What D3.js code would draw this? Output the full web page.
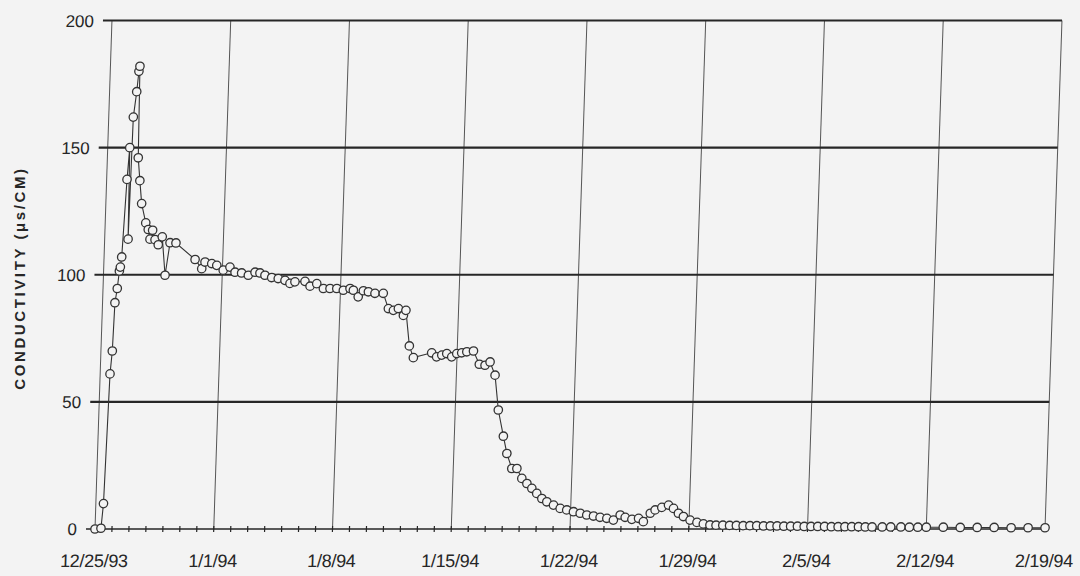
<!DOCTYPE html>
<html><head><meta charset="utf-8">
<script src="https://cdn.jsdelivr.net/npm/d3@7/dist/d3.min.js"></script>
<style>body{margin:0;background:#f3f3f3}svg{display:block}</style>
</head><body>
<svg id="chart" width="1080" height="576"></svg>
<script>
// ---- data ----
const startDate = new Date(Date.UTC(1993, 11, 25));
const dayOffsets = [0.0,0.35,0.45,0.58,0.67,0.73,0.84,0.93,0.98,1.04,1.2,1.3,1.38,1.45,1.6,1.69,1.74,1.82,1.96,2.11,
  2.39,2.55,2.67,2.81,2.97,3.17,3.39,3.63,3.86,4.21,5.37,5.78,5.96,6.36,6.66,7.05,7.44,7.75,8.14,8.54,
  8.93,9.22,9.52,9.92,10.31,10.71,11.01,11.3,11.89,12.2,12.59,12.99,13.38,13.78,14.17,14.56,14.76,15.06,15.35,15.65,
  16.04,16.53,16.86,17.16,17.45,17.76,17.9,18.17,18.43,19.5,19.8,20.1,20.39,20.69,20.98,21.27,21.57,21.96,22.33,22.67,
  22.96,23.28,23.54,23.89,24.13,24.45,24.75,25.06,25.37,25.67,25.97,26.28,26.58,26.98,27.38,27.77,28.17,28.57,28.96,29.36,
  29.75,30.15,30.54,30.93,31.23,31.63,32.02,32.31,32.7,32.98,33.37,33.76,34.06,34.36,34.66,35.06,35.47,35.85,36.24,
  36.6,37.0,37.4,37.8,38.2,38.6,39.0,39.4,39.8,40.2,40.6,41.0,41.4,41.8,42.2,42.6,43.0,43.4,43.8,44.2,44.6,45.0,45.4,45.8,
  46.4,46.9,47.5,48.0,48.5,49.0,50,51,52,53,54,55,56];
const conductivity = [0,0.3,10,61,70,89,94.6,101.5,103,107,137.5,150,114,162,172,180,182,146,137,128,
  120.4,117.8,114,117.5,113.8,111.8,114.9,99.8,112.6,112.5,106,102.4,105,104.4,103.7,101.8,103,101,100.7,99.8,
  101,100.7,99.8,98.9,98.5,97.8,96.6,97.2,97.4,95.5,96.5,94.6,94.6,94.6,93.9,94.6,93.9,91.3,93.7,93.3,
  92.7,92.7,86.7,86,86.7,84,86,72,67.4,69.3,67.7,68.4,69,67.7,69,69.3,69.7,70,64.8,64.4,
  65.7,60.5,46.8,36.5,29.7,23.8,23.8,19.9,17.9,16,14,12,10.7,9.4,8.1,7.5,6.8,6.2,5.5,5.1,
  4.6,4.2,3.5,5.5,4.6,3.8,4.2,2.9,6.2,7.5,8.5,9.4,8.1,6.2,4.9,3.5,2.6,2.0,1.6,
  1.5,1.5,1.4,1.4,1.3,1.3,1.3,1.2,1.2,1.2,1.1,1.1,1.1,1.0,1.0,1.0,1.0,0.9,0.9,0.9,0.9,0.9,0.8,0.8,
  0.8,0.8,0.8,0.7,0.7,0.7,0.7,0.6,0.6,0.6,0.5,0.5,0.5];
const xTickDays = [0,7,14,21,28,35,42,49,56];
const xTickLabels = ["12/25/93","1/1/94","1/8/94","1/15/94","1/22/94","1/29/94","2/5/94","2/12/94","2/19/94"];
const minorTickDays = [0,1,2,3,4,5,6,7,8,9,10,11,12,13,14,15,16,17,18,19,20,21,22,23,24,25,26,27,28,
  29,30,31,32,33,34,35,36,37,38,39,40,41,42,43,44,45,46,47,48,49,50,51,52,53,54,55,56];
const yTickValues = [0,50,100,150,200];
const yTickLabels = ["0","50","100","150","200"];
const yTitle = "CONDUCTIVITY (\u03bcs/CM)";

// ---- layout ----
const DAY = 864e5;
const toDate = d => new Date(startDate.getTime() + d * DAY);
const endDate = toDate(56);
const x = d3.scaleUtc().domain([startDate, endDate]).range([95, 1045]);
const y = d3.scaleLinear().domain([0, 200]).range([529, 20.5]);
const ink = "#262626";
const font = "Liberation Sans, Arial, sans-serif";

const svg = d3.select("#chart");
svg.append("rect").attr("width",1080).attr("height",576).attr("fill","#f3f3f3");
// the scanned original is slightly sheared; reproduce it
const g = svg.append("g").attr("transform", `translate(0,${y(0)}) skewX(-1.91) translate(0,${-y(0)})`);

// vertical grid lines
g.append("g").attr("class","vgrid").selectAll("line").data(xTickDays).join("line")
  .attr("x1", d => x(toDate(d))).attr("x2", d => x(toDate(d)))
  .attr("y1", y(0)).attr("y2", y(200))
  .attr("stroke", "#555").attr("stroke-width", 1);

// horizontal grid lines
g.append("g").attr("class","hgrid").selectAll("line").data(yTickValues.filter(v => v > 0)).join("line")
  .attr("x1", x(startDate) - 9).attr("x2", x(endDate))
  .attr("y1", d => y(d)).attr("y2", d => y(d))
  .attr("stroke", ink).attr("stroke-width", 2.2);

// baseline with daily minor ticks
g.append("line").attr("x1", x(startDate) - 9).attr("x2", x(endDate))
  .attr("y1", y(0)).attr("y2", y(0)).attr("stroke", ink).attr("stroke-width", 1.6);
g.append("g").attr("class","minor").selectAll("line").data(minorTickDays).join("line")
  .attr("x1", d => x(toDate(d))).attr("x2", d => x(toDate(d)))
  .attr("y1", y(0) - 3).attr("y2", y(0) + 3)
  .attr("stroke", ink).attr("stroke-width", 1.2);

// y tick labels
g.append("g").selectAll("text").data(yTickValues).join("text")
  .attr("x", x(startDate) - 18).attr("y", d => y(d))
  .attr("dy", "0.36em").attr("text-anchor", "end")
  .attr("font-family", font).attr("font-size", 17)
  .attr("fill", ink).text((d, i) => yTickLabels[i]);

// x tick labels
g.append("g").selectAll("text").data(xTickDays).join("text")
  .attr("x", d => x(toDate(d))).attr("y", 567)
  .attr("text-anchor", "middle")
  .attr("font-family", font).attr("font-size", 18)
  .attr("letter-spacing", "-0.3px")
  .attr("fill", ink).text((d, i) => xTickLabels[i]);

// y axis title
svg.append("text")
  .attr("transform", "translate(25,278) rotate(-90)")
  .attr("text-anchor", "middle")
  .attr("font-family", font).attr("font-weight", "bold")
  .attr("font-size", 15).attr("letter-spacing", "2.6px")
  .attr("fill", ink).text(yTitle);

// series
const pts = dayOffsets.map((d, i) => ({date: toDate(d), v: conductivity[i]}));
g.append("path").datum(pts)
  .attr("fill", "none").attr("stroke", "#333").attr("stroke-width", 1.1)
  .attr("d", d3.line().x(d => x(d.date)).y(d => y(d.v)));
g.append("g").selectAll("circle").data(pts).join("circle")
  .attr("cx", d => x(d.date)).attr("cy", d => y(d.v)).attr("r", 4.2)
  .attr("fill", "#f3f3f3").attr("stroke", "#333").attr("stroke-width", 1.3);
</script>
</body></html>
